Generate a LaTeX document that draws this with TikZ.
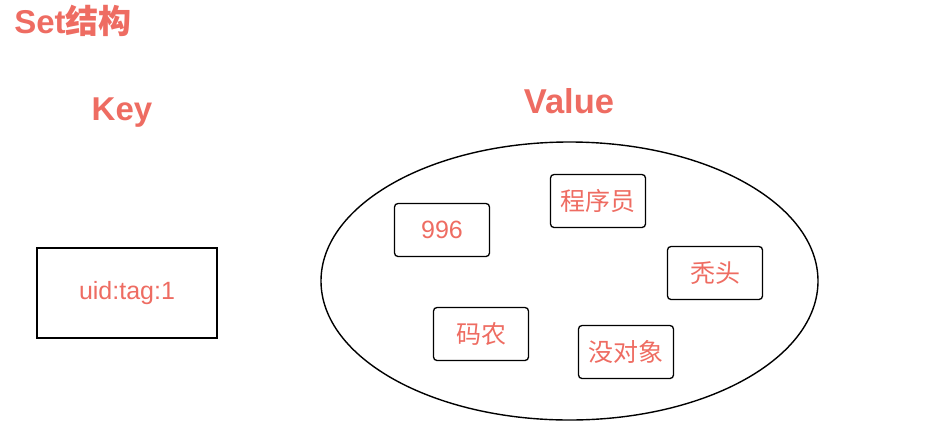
\documentclass[tikz,border=0pt]{standalone}
\usepackage{fontspec}
\setmainfont{Liberation Sans}
\newfontfamily\cjk{Noto Sans CJK SC}
\usetikzlibrary{shapes.geometric}
\definecolor{salmon}{RGB}{238,108,98}
\begin{document}
\begin{tikzpicture}[x=1pt,y=-1pt,
  heading/.style={text=salmon,inner sep=0pt,font=\bfseries\fontsize{33}{36}\selectfont},
  keybox/.style={draw,line width=1.3pt,minimum width=180pt,minimum height=90pt,text=salmon,font=\fontsize{25}{27}\selectfont},
  member/.style={draw,line width=1.3pt,rounded corners=3.5pt,minimum width=95pt,minimum height=53pt,text=salmon,font=\fontsize{25}{27}\selectfont}]
  \useasboundingbox (0,0) rectangle (935,432);
  % titles
  \node[heading,anchor=base] (settitle) at (73,33) {Set{\cjk 结构}};
  \node[heading,anchor=base] (keytitle) at (122,120) {Key};
  \node[heading,anchor=base,font=\bfseries\fontsize{34.5}{37}\selectfont] (valtitle) at (569,113) {Value};
  % key
  \node[keybox] (uid) at (127,293) {uid:tag:1};
  % value set
  \node[draw,ellipse,line width=1.4pt,minimum width=497pt,minimum height=278pt,inner sep=0pt] (valset) at (569.5,281) {};
  \node[member] (n996) at (442,230) {996};
  \node[member] (coder) at (598,201) {\cjk 程序员};
  \node[member] (bald) at (715,273) {\cjk 秃头};
  \node[member] (farmer) at (481,334) {\cjk 码农};
  \node[member] (single) at (626,352) {\cjk 没对象};
\end{tikzpicture}
\end{document}
